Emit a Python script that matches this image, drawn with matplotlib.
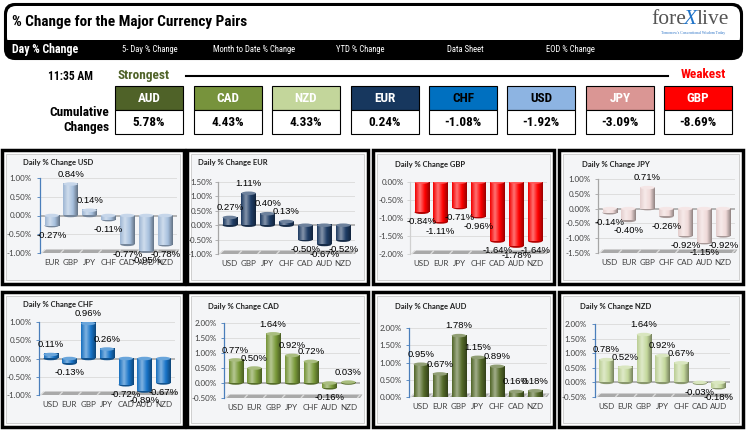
import numpy as np
import matplotlib
matplotlib.use('Agg')
import matplotlib.pyplot as plt
from matplotlib.patches import Rectangle, FancyBboxPatch, Ellipse, Polygon
from matplotlib.colors import LinearSegmentedColormap, to_rgb
from matplotlib import font_manager

W, H = 747, 433

# ---- data ----
time_label = '11:35 AM'
menu_items = ['Day % Change', '5- Day % Change', 'Month to Date % Change',
              'YTD % Change', 'Data Sheet', 'EOD % Change']
rank_ccy = ['AUD', 'CAD', 'NZD', 'EUR', 'CHF', 'USD', 'JPY', 'GBP']
rank_chg = ['5.78%', '4.43%', '4.33%', '0.24%', '-1.08%', '-1.92%', '-3.09%', '-8.69%']
rank_fill = ['#4f6228', '#77933c', '#c3d69b', '#17375e', '#0070c0', '#8db4e2', '#da9694', '#ff0000']
rank_text = ['white', 'white', 'white', 'white', 'black', 'black', 'white', 'white']

usd_cats = ['EUR', 'GBP', 'JPY', 'CHF', 'CAD', 'AUD', 'NZD']
usd_vals = [-0.27, 0.84, 0.14, -0.11, -0.77, -0.95, -0.78]
usd_ticks = [-1.0, -0.5, 0.0, 0.5, 1.0]

eur_cats = ['USD', 'GBP', 'JPY', 'CHF', 'CAD', 'AUD', 'NZD']
eur_vals = [0.27, 1.11, 0.40, 0.13, -0.50, -0.67, -0.52]
eur_ticks = [-1.0, -0.5, 0.0, 0.5, 1.0, 1.5]

gbp_cats = ['USD', 'EUR', 'JPY', 'CHF', 'CAD', 'AUD', 'NZD']
gbp_vals = [-0.84, -1.11, -0.71, -0.96, -1.64, -1.78, -1.64]
gbp_ticks = [-2.0, -1.5, -1.0, -0.5, 0.0]

jpy_cats = ['USD', 'EUR', 'GBP', 'CHF', 'CAD', 'AUD', 'NZD']
jpy_vals = [-0.14, -0.40, 0.71, -0.26, -0.92, -1.15, -0.92]
jpy_ticks = [-1.5, -1.0, -0.5, 0.0, 0.5, 1.0]

chf_cats = ['USD', 'EUR', 'GBP', 'JPY', 'CAD', 'AUD', 'NZD']
chf_vals = [0.11, -0.13, 0.96, 0.26, -0.72, -0.89, -0.67]
chf_ticks = [-1.0, -0.5, 0.0, 0.5, 1.0]

cad_cats = ['USD', 'EUR', 'GBP', 'JPY', 'CHF', 'AUD', 'NZD']
cad_vals = [0.77, 0.50, 1.64, 0.92, 0.72, -0.16, 0.03]
cad_ticks = [-0.5, 0.0, 0.5, 1.0, 1.5, 2.0]

aud_cats = ['USD', 'EUR', 'GBP', 'JPY', 'CHF', 'CAD', 'NZD']
aud_vals = [0.95, 0.67, 1.78, 1.15, 0.89, 0.16, 0.18]
aud_ticks = [0.0, 0.5, 1.0, 1.5, 2.0]

nzd_cats = ['USD', 'EUR', 'GBP', 'JPY', 'CHF', 'CAD', 'AUD']
nzd_vals = [0.78, 0.52, 1.64, 0.92, 0.67, -0.03, -0.18]
nzd_ticks = [-0.5, 0.0, 0.5, 1.0, 1.5, 2.0]

names = {f.name for f in font_manager.fontManager.ttflist}
NARROW = 'Lato'
for cand in ['Liberation Sans Narrow', 'Roboto Condensed', 'Open Sans Condensed']:
    if cand in names:
        NARROW = cand
        break
SANS = 'Liberation Sans'
CAL = 'Lato'


def shade(c, f):
    c = np.array(to_rgb(c))
    if f >= 0:
        return tuple(c + (1 - c) * f)
    return tuple(c * (1 + f))


fig = plt.figure(figsize=(W / 100, H / 100), dpi=100)
ax0 = fig.add_axes([0, 0, 1, 1])
ax0.set_xlim(0, W)
ax0.set_ylim(H, 0)
ax0.axis('off')

# header
ax0.add_patch(FancyBboxPatch((5, 4), 737, 55, boxstyle='round,pad=0,rounding_size=10',
                             fc='black', ec='black', lw=1.5))
ax0.add_patch(FancyBboxPatch((7, 6), 733, 40, boxstyle='round,pad=0,rounding_size=9',
                             fc='white', ec='none'))
ax0.add_patch(Rectangle((6, 40), 735, 8, fc='black', ec='none'))
ax0.text(12, 22, '% Change for the Major Currency Pairs', fontsize=11, fontweight='heavy',
         family=NARROW, va='center', ha='left')
ax0.text(651, 20, 'fore', fontsize=15.5, family='Liberation Serif', color='#555555', va='center')
ax0.text(684, 19, 'X', fontsize=15.5, family='Liberation Serif', color='#1f73c8', va='center',
         style='italic')
ax0.text(697, 20, 'live', fontsize=15.5, family='Liberation Serif', color='#555555', va='center')
ax0.text(693, 33, "Tomorrow's Conventional Wisdom Today", fontsize=2.8, color='#2e75c8',
         ha='center', va='center', family='Liberation Serif')

menu_x = [12, 122, 213, 336, 447, 546]
for i, (mx, item) in enumerate(zip(menu_x, menu_items)):
    ax0.text(mx, 50, item, color='white', va='center', family=NARROW,
             fontsize=8.6 if i == 0 else 6.2, fontweight='bold' if i == 0 else 'normal')

# strongest / weakest row
ax0.text(48, 76, time_label, fontsize=8.3, fontweight='heavy', family=NARROW, va='center')
ax0.text(118, 75, 'Strongest', fontsize=9.5, fontweight='heavy', family=NARROW, color='#4f6228', va='center')
ax0.text(726, 75, 'Weakest', fontsize=9.5, fontweight='heavy', family=NARROW, color='#ff0000',
         va='center', ha='right')
ax0.plot([186, 668], [76, 76], color='black', lw=1.5)
ax0.text(109, 113, 'Cumulative', fontsize=9.5, fontweight='heavy', family=NARROW, ha='right', va='center')
ax0.text(109, 128, 'Changes', fontsize=9.5, fontweight='heavy', family=NARROW, ha='right', va='center')

box_x = [115, 194, 272, 351, 429, 507, 586, 664]
for bx, ccy, chg, fc, tc in zip(box_x, rank_ccy, rank_chg, rank_fill, rank_text):
    ax0.add_patch(Rectangle((bx, 86), 68, 24, fc=fc, ec='black', lw=0.8))
    ax0.add_patch(Rectangle((bx, 110), 68, 24, fc='white', ec='black', lw=0.8))
    ax0.text(bx + 34, 98, ccy, color=tc, fontsize=9.5, fontweight='heavy', family=NARROW,
             ha='center', va='center')
    ax0.text(bx + 34, 122, chg, color='black', fontsize=9.5, fontweight='heavy', family=NARROW,
             ha='center', va='center')

# panel layout: name, cats, vals, ticks, bar colour, spine colour, box, axes rect, title pos, label pad px
panels = [
    ('USD', usd_cats, usd_vals, usd_ticks, '#a7c0de', '#4a7ebb', (2, 150, 184, 284), (40, 178, 177, 253), (23, 163), 6),
    ('EUR', eur_cats, eur_vals, eur_ticks, '#1f3d66', '#a6a6a6', (187, 150, 368, 284), (218, 182, 355, 254), (198, 163), 3),
    ('GBP', gbp_cats, gbp_vals, gbp_ticks, '#ff0000', '#d0d0d0', (373, 150, 554, 284), (410, 182, 547, 254), (395, 164), 4),
    ('JPY', jpy_cats, jpy_vals, jpy_ticks, '#efd9d8', '#a6a6a6', (559, 150, 743, 284), (598, 179, 735, 253), (582, 164), 5),
    ('CHF', chf_cats, chf_vals, chf_ticks, '#1874c8', '#4a7ebb', (2, 292, 184, 427), (39, 322, 175, 395), (23, 305), 5),
    ('CAD', cad_cats, cad_vals, cad_ticks, '#7a9a3a', '#4a7ebb', (187, 292, 368, 427), (224, 323, 360, 398), (208, 306), 5),
    ('AUD', aud_cats, aud_vals, aud_ticks, '#556b2a', '#4a7ebb', (373, 292, 554, 427), (409, 328, 547, 397), (395, 306), 5),
    ('NZD', nzd_cats, nzd_vals, nzd_ticks, '#c4d89c', '#4a7ebb', (559, 292, 743, 427), (595, 324, 730, 397), (580, 307), 6),
]

grad = np.linspace(0, 1, 64).reshape(1, -1)
bw = 0.76

for name, cats, vals, ticks, base, spine_col, box, rect, tpos, pad in panels:
    x0, y0, x1, y1 = box
    outer = Rectangle((x0, y0), x1 - x0, y1 - y0, fc='white', ec='black', lw=2.5)
    ax0.add_patch(outer)
    ax0.add_patch(Rectangle((x0 + 4, y0 + 4), x1 - x0 - 8, y1 - y0 - 8, fc='#f4f5f7', ec='#c8c8c8', lw=0.6))
    ax0.text(tpos[0], tpos[1], 'Daily % Change ' + name, fontsize=5.5, fontweight='bold',
             family=CAL, va='center', color='#202020')

    l, t, r, b = rect
    ax = fig.add_axes([l / W, 1 - b / H, (r - l) / W, (b - t) / H])
    ax.patch.set_alpha(0)
    lo, hi = ticks[0], ticks[-1]
    ppx = (hi - lo) / (b - t)

    for tk in ticks:
        ax.axhline(tk, color='#dadada', lw=0.6, zorder=1)
    if lo < 0 < hi:
        ax.axhline(0, color='#b4b4b4', lw=1.4, zorder=2)

    # 3d floor
    ax.add_patch(Polygon([(-0.55, lo), (6.62, lo), (6.75, lo + 3.5 * ppx), (-0.3, lo + 3.5 * ppx)],
                         closed=True, fc='#a9a9a9', ec='none', zorder=2, clip_on=False))
    for k in range(8):
        ax.plot([k - 0.5, k - 0.38], [lo + 0.5 * ppx, lo + 3.0 * ppx], color='#dcdcdc', lw=1.0,
                zorder=2, clip_on=False)

    cmap = LinearSegmentedColormap.from_list(
        'cyl', [shade(base, -0.05), shade(base, 0.45), base, shade(base, -0.4)])
    eh = 3.5 * ppx
    for i, v in enumerate(vals):
        top, bot = max(v, 0), min(v, 0)
        ax.add_patch(Ellipse((i, bot), bw, eh, fc=shade(base, -0.3), ec='none', zorder=3))
        ax.imshow(grad, extent=[i - bw / 2, i + bw / 2, bot, top], aspect='auto', cmap=cmap,
                  zorder=4, interpolation='bilinear')
        ax.add_patch(Ellipse((i, top), bw, eh, fc=shade(base, 0.35), ec='none', zorder=5))
        ax.annotate(f'{v:.2f}%', (i, v), xytext=(0, 7 if v >= 0 else -7), textcoords='offset points',
                    ha='center', va='center', fontsize=6.8, family=SANS, zorder=6)

    ax.set_xlim(-0.62, 6.62)
    ax.set_ylim(lo, hi)
    ax.set_yticks(ticks)
    ax.set_yticklabels([f'{tk:.2f}%' for tk in ticks], fontsize=5.8, family=CAL, color='#404040')
    ax.set_xticks(range(7))
    ax.set_xticklabels(cats, fontsize=5.8, family=CAL, color='#404040')
    ax.tick_params(axis='x', length=0, pad=4)
    ax.tick_params(axis='y', length=2.5, width=0.6, color=spine_col, pad=pad * 0.72 - 1)
    for s in ['top', 'right', 'bottom']:
        ax.spines[s].set_visible(False)
    ax.spines['left'].set_color(spine_col)
    ax.spines['left'].set_linewidth(0.9)
    for lbl in ax.get_yticklabels():
        lbl.set_clip_path(outer)

fig.savefig('out.png', dpi=100)
